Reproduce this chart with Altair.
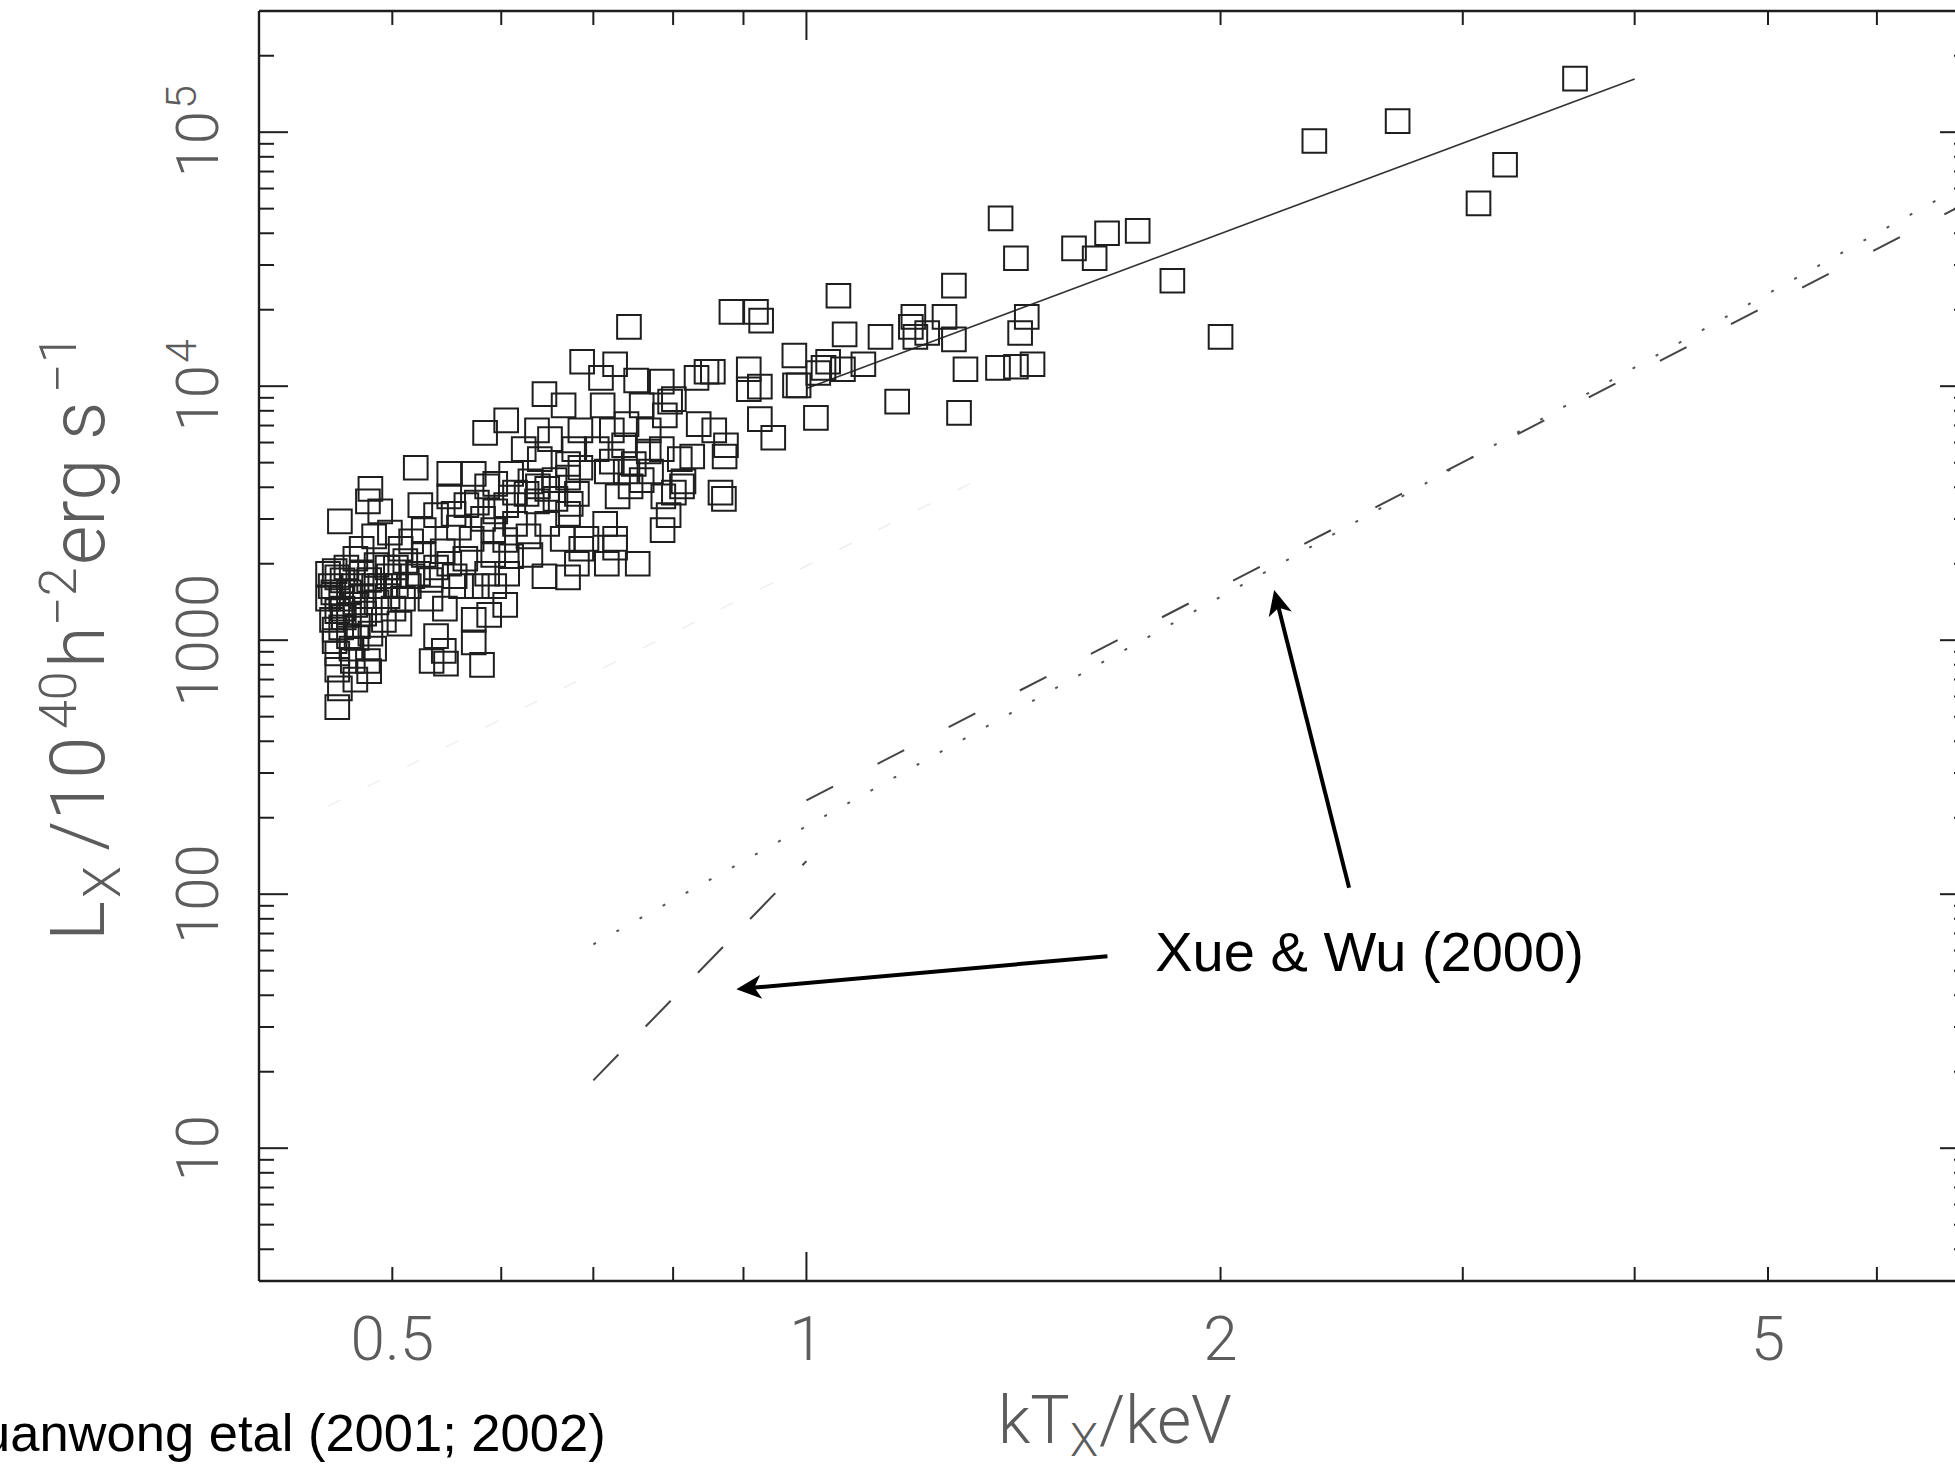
import altair as alt
import pandas as pd

# ---------------------------------------------------------------------------
# Group sample: X-ray temperature (keV) and luminosity (1e40 h^-2 erg/s)
kt = [3.62, 2.69, 2.34, 3.22, 3.08, 1.384, 1.654, 1.741, 1.565, 1.62,
      1.42, 1.845, 1.28, 1.055, 1.446, 1.196, 1.26, 1.191, 1.224, 1.43,
      1.066, 1.132, 2.0, 1.2, 1.28, 0.882, 0.919, 0.927, 0.743, 0.98,
      1.037, 1.378, 1.42, 1.46, 1.305, 0.908, 1.02, 1.029, 0.846, 0.855,
      0.785, 0.752, 0.726, 0.925, 0.981, 1.164, 1.291, 0.908, 0.925, 1.016,
      0.946, 0.687, 0.709, 0.645, 0.605, 0.666, 0.711, 0.759, 0.796, 0.789,
      0.801, 0.768, 0.740, 0.722, 0.685, 0.651, 0.637, 0.584, 0.64, 0.678,
      0.704, 0.737, 0.768, 0.785, 0.809, 0.872, 0.874, 0.685, 0.671, 0.716,
      0.739, 0.745, 0.759, 0.771, 0.787, 0.812, 0.801, 0.866, 0.871, 0.786,
      0.722, 0.681, 0.674, 0.671, 0.714, 0.726, 0.754, 0.716, 0.681, 0.671,
      0.614, 0.628, 0.638, 0.630, 0.626, 0.637, 0.648, 0.656, 0.614, 0.605,
      0.594, 0.604, 0.645, 0.648, 0.586, 0.573, 0.576, 0.566, 0.582, 0.592,
      0.571, 0.559, 0.554, 0.550, 0.52, 0.482, 0.480, 0.490, 0.524, 0.538,
      0.527, 0.516, 0.507, 0.498, 0.485, 0.475, 0.470, 0.487, 0.503, 0.522,
      0.550, 0.544, 0.565, 0.586, 0.606, 0.593, 0.604, 0.588, 0.573, 0.561,
      0.533, 0.517, 0.546, 0.538, 0.545, 0.534, 0.547, 0.581, 0.573, 0.458,
      0.454, 0.456, 0.453, 0.459, 0.456, 0.452, 0.459, 0.454, 0.456, 0.456,
      0.458, 0.456, 0.468, 0.470, 0.475, 0.481, 0.477, 0.472, 0.482, 0.467,
      0.468, 0.481, 0.470, 0.487, 0.496, 0.501, 0.503, 0.493, 0.485, 0.509,
      0.480, 0.463, 0.461, 0.465, 0.449, 0.490, 0.497, 0.514, 0.506, 0.527,
      0.533, 0.576, 0.592, 0.610, 0.630, 0.665, 0.692, 0.729, 0.749, 0.826,
      0.835, 0.832, 0.857, 0.987, 1.063, 1.10, 0.794, 0.814, 0.686, 0.726,
      0.657, 0.671, 0.610, 0.623, 0.594, 0.550, 0.451, 0.460, 0.465, 0.454,
      0.475, 0.485, 0.46, 0.471, 0.449, 0.496, 0.511, 0.538, 0.555, 0.465]

lx = [162400, 110600, 92300, 74450, 52450, 45800, 40000, 40900, 34900, 31900,
      31900, 26000, 24900, 22700, 18750, 18750, 18750, 17130, 16190, 16190,
      16000, 15640, 15640, 15640, 15290, 19600, 19600, 18130, 17130, 13210,
      12480, 11800, 11930, 12200, 11660, 11660, 11270, 11800, 11400, 11400,
      10420, 10530, 12200, 9960, 10070, 8694, 7852, 9730, 7420, 7504,
      6264, 12480, 10780, 9300, 7336, 8405, 8405, 8405, 8694, 7677,
      8890, 6701, 7093, 6701, 6701, 6193, 6701, 6552, 5166, 5656,
      5656, 5853, 5530, 5656, 5166, 5287, 5853, 4775, 4363, 4616,
      4616, 4031, 4266, 4616, 3682, 4031, 3808, 3808, 3601, 2713,
      5050, 3766, 3441, 3143, 2871, 2316, 2000, 2000, 2000, 1766,
      2871, 2564, 4031, 4217, 3766, 3519, 3940, 4266, 3808, 3402,
      3215, 2479, 1786, 2871, 4031, 4513, 3480, 3402, 3004, 2713,
      2506, 2775, 3143, 3682, 4775, 3940, 3519, 3215, 3402, 3108,
      2713, 2451, 2290, 2652, 2564, 2290, 2092, 1977, 1933, 1827,
      2000, 2239, 2092, 1827, 1827, 1632, 1377, 1258, 1202, 1632,
      1457, 1786, 1331, 1038, 907, 828, 809, 800, 981, 2937,
      1869, 1766, 1542, 1457, 1301, 1202, 1123, 992, 886, 765,
      646, 545, 1632, 1377, 1491, 1726, 1273, 1136, 1062, 927,
      828, 756, 699, 1408, 1491, 1331, 1632, 1202, 927, 1457,
      828, 1933, 1229, 1038, 1457, 1632, 1786, 1632, 1162, 2164,
      1726, 1632, 2164, 2140, 2164, 2506, 2506, 3682, 4940, 5287,
      7093, 10780, 6701, 10070, 11660, 12200, 3108, 4217, 2290, 2506,
      3601, 4940, 4513, 5656, 4123, 4513, 1632, 1331, 1542, 1100,
      1827, 1632, 1720, 1020, 1827, 1933, 2050, 1933, 1786, 1258]

# Power-law fit through the sample
fit_kt = [1.0, 4.0]
fit_lx = [9800, 162000]

# Xue & Wu (2000): groups and clusters fitted separately (dashed) ...
xw_group_kt = [0.7, 1.0]
xw_group_lx = [18.5, 135]
xw_cluster_kt = [1.0, 7.0]
xw_cluster_lx = [234, 53300]
# ... and the joint relation (dotted)
xw_joint_kt = [0.7, 7.0]
xw_joint_lx = [63.5, 63500]

# very faint reference relation
faint_kt = [0.449, 1.35]
faint_lx = [222, 4440]

# axis ticks and labels
x_label_values = [0.5, 1, 2, 5]
x_label_texts = ["0.5", "1", "2", "5"]
x_major_ticks = [1]
x_minor_ticks = [0.5, 0.6, 0.7, 0.8, 0.9, 2, 3, 4, 5, 6]
y_major_ticks = [10, 100, 1000, 10000, 100000]
y_minor_ticks = [4, 5, 6, 7, 8, 9,
                 20, 30, 40, 50, 60, 70, 80, 90,
                 200, 300, 400, 500, 600, 700, 800, 900,
                 2000, 3000, 4000, 5000, 6000, 7000, 8000, 9000,
                 20000, 30000, 40000, 50000, 60000, 70000, 80000, 90000,
                 200000]
y_plain_values = [1000, 100, 10]
y_plain_texts = ["1000", "100", "10"]
y_power_values = [100000, 10000]
y_power_exps = ["5", "4"]

# annotation arrows (tail -> head), in data units
arrow_tail_kt = [2.48, 1.655]
arrow_tail_lx = [106, 57]
arrow_head_kt = [2.199, 0.908]
arrow_head_lx = [1411, 42.7]
arrow_angles = [255.9, 174.9]

note_kt = [1.793]
note_lx = [49.8]
note_text = ["Xue & Wu (2000)"]

# ---------------------------------------------------------------------------
W, H = 1696, 1270          # plot area inside the page
X_RANGE = 1710             # frame continues past the right page edge
INK = "#1e1e1e"
LABEL = "#5c5c5c"
LFONT = "Roboto"

xs = alt.Scale(type="log", domain=[0.4, 7], range=[0, X_RANGE], nice=False)
ys = alt.Scale(type="log", domain=[3, 300000], nice=False)


def X(field):
    return alt.X(field, type="quantitative", scale=xs, axis=None)


def Y(field):
    return alt.Y(field, type="quantitative", scale=ys, axis=None)


def line_layer(t, l, **mark):
    df = pd.DataFrame({"kt": t, "lx": l})
    return alt.Chart(df).mark_line(**mark).encode(x=X("kt"), y=Y("lx"))


layers = []

# faint relation and the fitted lines
layers.append(line_layer(faint_kt, faint_lx, color="#ececec", strokeWidth=1.2,
                         strokeDash=[14, 30]))
layers.append(line_layer(xw_joint_kt, xw_joint_lx, color="#555555",
                         strokeWidth=2, strokeDash=[3, 23.4]))
layers.append(line_layer(xw_group_kt, xw_group_lx, color="#444444",
                         strokeWidth=2, strokeDash=[36, 39]))
layers.append(line_layer(xw_cluster_kt, xw_cluster_lx, color="#444444",
                         strokeWidth=2, strokeDash=[30, 50]))
layers.append(line_layer(fit_kt, fit_lx, color="#333333", strokeWidth=1.6))

# the sample as open squares
pts = pd.DataFrame({"kt": kt, "lx": lx})
layers.append(
    alt.Chart(pts).mark_point(shape="square", filled=False, size=560,
                              color=INK, strokeWidth=2, opacity=1)
    .encode(x=X("kt"), y=Y("lx"))
)

# frame
layers.append(
    alt.Chart(pd.DataFrame({"kt": [0.4, 7]})).mark_rule(color=INK, strokeWidth=2.4)
    .encode(x=X("kt"), y=alt.value(0), y2=alt.value(H))
)
layers.append(
    alt.Chart(pd.DataFrame({"lx": [3, 300000]})).mark_rule(color=INK, strokeWidth=2.4)
    .encode(y=Y("lx"), x=alt.value(0), x2=alt.value(X_RANGE))
)


def xticks(values, length):
    df = pd.DataFrame({"kt": values})
    bottom = alt.Chart(df).mark_rule(color=INK, strokeWidth=2).encode(
        x=X("kt"), y=alt.value(H), y2=alt.value(H - length))
    top = alt.Chart(df).mark_rule(color=INK, strokeWidth=2).encode(
        x=X("kt"), y=alt.value(0), y2=alt.value(length))
    return [bottom, top]


def yticks(values, length):
    df = pd.DataFrame({"lx": values})
    left = alt.Chart(df).mark_rule(color=INK, strokeWidth=2).encode(
        y=Y("lx"), x=alt.value(0), x2=alt.value(length))
    right = alt.Chart(df).mark_rule(color=INK, strokeWidth=2).encode(
        y=Y("lx"), x=alt.value(X_RANGE), x2=alt.value(X_RANGE - length))
    return [left, right]


layers += xticks(x_major_ticks, 29) + xticks(x_minor_ticks, 14)
layers += yticks(y_major_ticks, 29) + yticks(y_minor_ticks, 15)

# tick labels
layers.append(
    alt.Chart(pd.DataFrame({"kt": x_label_values, "s": x_label_texts}))
    .mark_text(font=LFONT, fontWeight=300, fontSize=62, color=LABEL,
               align="center", baseline="alphabetic")
    .encode(x=X("kt"), y=alt.value(H + 79), text="s:N")
)
layers.append(
    alt.Chart(pd.DataFrame({"lx": y_plain_values, "s": y_plain_texts}))
    .mark_text(font=LFONT, fontWeight=300, fontSize=60, color=LABEL,
               align="center", baseline="alphabetic", angle=270)
    .encode(y=Y("lx"), x=alt.value(-41), text="s:N")
)
pow_df = pd.DataFrame({"lx": y_power_values, "e": y_power_exps})
layers.append(
    alt.Chart(pow_df)
    .mark_text(font=LFONT, fontWeight=300, fontSize=60, color=LABEL,
               align="center", baseline="alphabetic", angle=270, dx=-12)
    .encode(y=Y("lx"), x=alt.value(-41), text=alt.value("10"))
)
layers.append(
    alt.Chart(pow_df)
    .mark_text(font=LFONT, fontWeight=300, fontSize=43, color=LABEL,
               align="center", baseline="alphabetic", angle=270, dx=35, dy=-22)
    .encode(y=Y("lx"), x=alt.value(-41), text="e:N")
)


def piece(text, x, y, size, angle=0, dx=0, dy=0, color=LABEL, font=LFONT,
          weight=300):
    return (
        alt.Chart(pd.DataFrame({"s": [text]}))
        .mark_text(font=font, fontWeight=weight, fontSize=size, color=color,
                   align="left", baseline="alphabetic", angle=angle, dx=dx, dy=dy)
        .encode(x=alt.value(x), y=alt.value(y), text="s:N")
    )


# y-axis title: L_X / 10^40 h^-2 erg s^-1 (rotated, built from pieces)
ty_x, ty_y = -155, 930
big, small = 76, 52
layers += [
    piece("L", ty_x, ty_y, big, 270, dx=0),
    piece("X", ty_x, ty_y, small, 270, dx=43, dy=16),
    piece("/10", ty_x, ty_y, big, 270, dx=90),
    piece("40", ty_x, ty_y, small, 270, dx=212, dy=-28),
    piece("h", ty_x, ty_y, big, 270, dx=273),
    piece("\u22122", ty_x, ty_y, small, 270, dx=315, dy=-28),
    piece("erg s", ty_x, ty_y, big, 270, dx=376),
    piece("\u22121", ty_x, ty_y, small, 270, dx=548, dy=-28),
]

# x-axis title: kT_X / keV
tx_x, tx_y = 739, 1432
tbig, tsmall = 66, 46
layers += [
    piece("kT", tx_x, tx_y, tbig, 0, dx=0),
    piece("X", tx_x, tx_y, tsmall, 0, dx=72, dy=13),
    piece("/keV", tx_x, tx_y, tbig, 0, dx=101),
]

# annotations
head_df = pd.DataFrame({"kt": arrow_head_kt, "lx": arrow_head_lx,
                        "kt2": arrow_tail_kt, "lx2": arrow_tail_lx,
                        "ang": arrow_angles})
layers.append(
    alt.Chart(head_df).mark_rule(color="black", strokeWidth=4)
    .encode(x=X("kt"), y=Y("lx"), x2="kt2:Q", y2="lx2:Q")
)
layers.append(
    alt.Chart(head_df)
    .mark_point(shape="M1,0L-1,-0.95L-0.45,0L-1,0.95Z", filled=True,
                size=625, color="black", opacity=1)
    .encode(x=X("kt"), y=Y("lx"),
            angle=alt.Angle("ang:Q", scale=None))
)
layers.append(
    alt.Chart(pd.DataFrame({"kt": note_kt, "lx": note_lx, "s": note_text}))
    .mark_text(font="Liberation Sans", fontSize=56, color="black",
               align="left", baseline="alphabetic")
    .encode(x=X("kt"), y=Y("lx"), text="s:N")
)
layers.append(piece("uanwong etal (2001; 2002)", -278, 1440, 52.5, 0,
                    color="black", font="Liberation Sans", weight=400))

chart = (
    alt.layer(*layers)
    .properties(width=W, height=H,
                autosize=alt.AutoSizeParams(type="none"),
                padding={"left": 259, "top": 11, "right": 0, "bottom": 184})
    .configure_view(stroke=None)
)

chart.save("out.html", embed_options={"renderer": "svg", "actions": False})
